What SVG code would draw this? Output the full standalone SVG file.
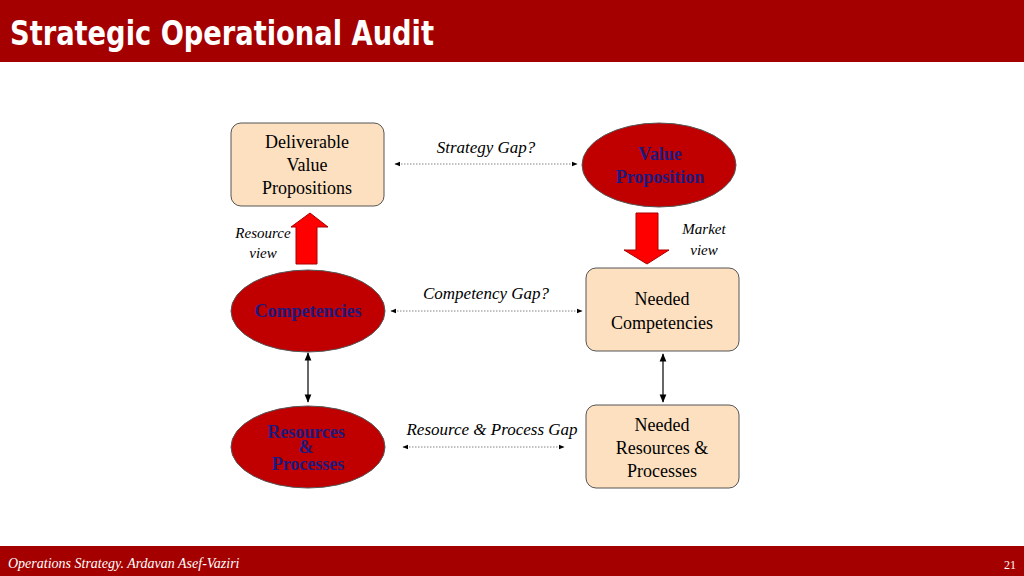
<svg xmlns="http://www.w3.org/2000/svg" width="1024" height="576" viewBox="0 0 1024 576">
<style>
.box{fill:#fde0c0;stroke:#555;stroke-width:1}
.ell{fill:#c00000;stroke:#555;stroke-width:1}
.t{font-family:"Liberation Serif",serif;font-size:18px;fill:#000;text-anchor:middle}
.b{font-family:"Liberation Serif",serif;font-size:18px;font-weight:bold;fill:#1a1a80;text-anchor:middle}
.i{font-family:"Liberation Serif",serif;font-style:italic;fill:#000;text-anchor:middle}
.dot{stroke:#666;stroke-width:0.8;stroke-dasharray:1.5 1.5;fill:none}
.sol{stroke:#000;stroke-width:1.2;fill:none}
.big{fill:#f00;stroke:#a00;stroke-width:1}
</style>
<defs>
<marker id="a" viewBox="0 0 10 10" refX="9" refY="5" markerWidth="7" markerHeight="7" orient="auto-start-reverse"><path d="M0,1 L10,5 L0,9 z" fill="#000"/></marker>
</defs>
<rect width="1024" height="576" fill="#fff"/>
<rect x="0" y="0" width="1024" height="62" fill="#a50000"/>
<text x="10" y="45" font-family="'Liberation Sans Narrow','DejaVu Sans Condensed',sans-serif" font-weight="bold" font-size="34" fill="#fff" textLength="424" lengthAdjust="spacingAndGlyphs">Strategic Operational Audit</text>
<rect x="0" y="546" width="1024" height="30" fill="#a50000"/>
<text x="8" y="568" font-family="'Liberation Serif',serif" font-style="italic" font-size="14" fill="#fff">Operations Strategy.  Ardavan Asef-Vaziri</text>
<text x="1016" y="569" font-family="'Liberation Serif',serif" font-size="12" fill="#fff" text-anchor="end">21</text>

<g id="connectors">
<line class="dot" x1="395" y1="164" x2="577" y2="164" marker-start="url(#a)" marker-end="url(#a)"/>
<line class="dot" x1="391" y1="311" x2="582" y2="311" marker-start="url(#a)" marker-end="url(#a)"/>
<line class="dot" x1="403" y1="447" x2="564" y2="447" marker-start="url(#a)" marker-end="url(#a)"/>
<line class="sol" x1="308" y1="353" x2="308" y2="402" marker-start="url(#a)" marker-end="url(#a)"/>
<line class="sol" x1="663" y1="354" x2="663" y2="402" marker-start="url(#a)" marker-end="url(#a)"/>
<polygon class="big" points="296,264 317,264 317,227 328,227 310,213 291,227 296,227"/>
<polygon class="big" points="636,213 658,213 658,250 669,250 647,264 624,250 636,250"/>
<text class="i" x="486" y="153" font-size="17">Strategy Gap?</text>
<text class="i" x="486" y="299" font-size="17">Competency Gap?</text>
<text class="i" x="492" y="435" font-size="17">Resource &amp; Process Gap</text>
<text class="i" x="263" y="238" font-size="15">Resource</text>
<text class="i" x="263" y="258" font-size="15">view</text>
<text class="i" x="704" y="234" font-size="15">Market</text>
<text class="i" x="704" y="255" font-size="15">view</text>
</g>

<g id="deliverable">
<rect class="box" x="231" y="123" width="153" height="83" rx="10"/>
<text class="t" x="307" y="148">Deliverable</text>
<text class="t" x="307" y="171">Value</text>
<text class="t" x="307" y="194">Propositions</text>
</g>
<g id="value-proposition">
<ellipse class="ell" cx="659" cy="165" rx="77" ry="42"/>
<text class="b" x="660" y="160">Value</text>
<text class="b" x="660" y="183">Proposition</text>
</g>
<g id="competencies">
<ellipse class="ell" cx="308" cy="311" rx="77" ry="41"/>
<text class="b" x="308" y="317">Competencies</text>
</g>
<g id="needed-competencies">
<rect class="box" x="586" y="268" width="153" height="83" rx="10"/>
<text class="t" x="662" y="305">Needed</text>
<text class="t" x="662" y="329">Competencies</text>
</g>
<g id="resources">
<ellipse class="ell" cx="308" cy="447" rx="77" ry="41"/>
<text class="b" x="306" y="438">Resources</text>
<text class="b" x="306" y="453" font-size="11">&amp;</text>
<text class="b" x="308" y="470">Processes</text>
</g>
<g id="needed-resources">
<rect class="box" x="586" y="405" width="153" height="83" rx="10"/>
<text class="t" x="662" y="431">Needed</text>
<text class="t" x="662" y="454">Resources &amp;</text>
<text class="t" x="662" y="477">Processes</text>
</g>
</svg>
